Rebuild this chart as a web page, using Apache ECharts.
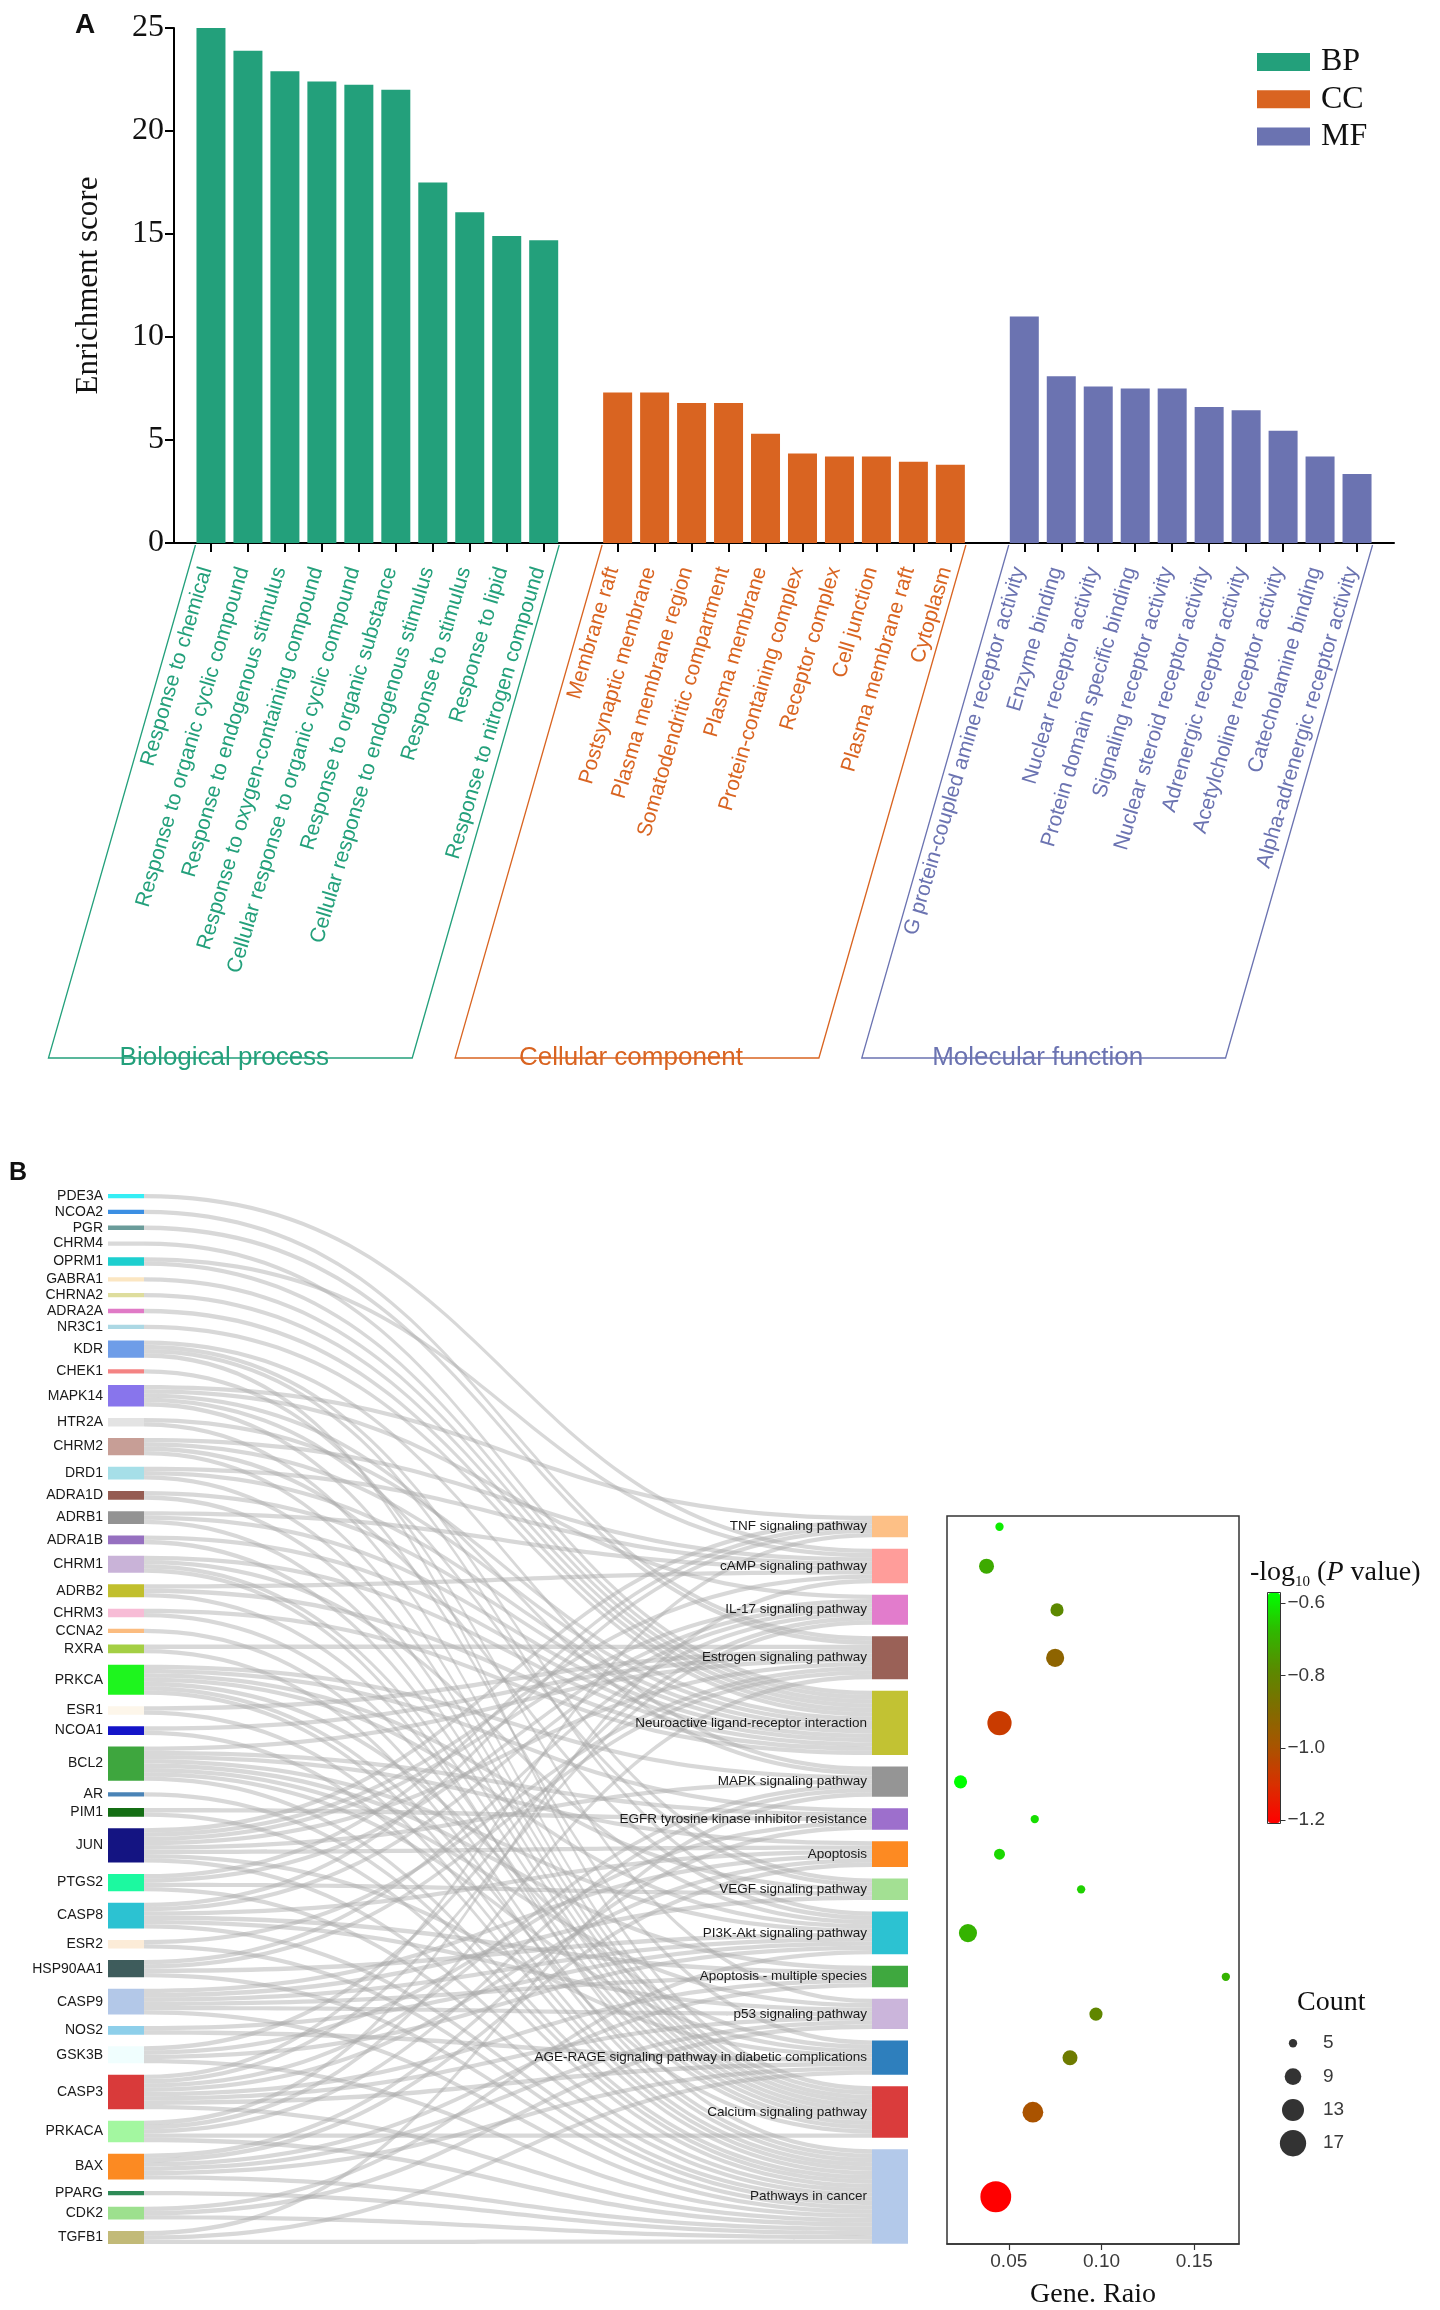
<!DOCTYPE html>
<html><head><meta charset="utf-8">
<script src="https://cdn.jsdelivr.net/npm/echarts@6.0.0/dist/echarts.min.js"></script>
<style>html,body{margin:0;padding:0;background:#fff}#c{width:1440px;height:2310px}</style>
</head><body><div id="c"></div>
<script>
// ---------------- Panel A : GO enrichment ----------------
const bpTerms = ['Response to chemical','Response to organic cyclic compound','Response to endogenous stimulus','Response to oxygen-containing compound','Cellular response to organic cyclic compound','Response to organic substance','Cellular response to endogenous stimulus','Response to stimulus','Response to lipid','Response to nitrogen compound'];
const bpScores = [25.0, 23.9, 22.9, 22.4, 22.25, 22.0, 17.5, 16.05, 14.9, 14.7];
const ccTerms = ['Membrane raft','Postsynaptic membrane','Plasma membrane region','Somatodendritic compartment','Plasma membrane','Protein-containing complex','Receptor complex','Cell junction','Plasma membrane raft','Cytoplasm'];
const ccScores = [7.3, 7.3, 6.8, 6.8, 5.3, 4.35, 4.2, 4.2, 3.95, 3.8];
const mfTerms = ['G protein-coupled amine receptor activity','Enzyme binding','Nuclear receptor activity','Protein domain specific binding','Signaling receptor activity','Nuclear steroid receptor activity','Adrenergic receptor activity','Acetylcholine receptor activity','Catecholamine binding','Alpha-adrenergic receptor activity'];
const mfScores = [11.0, 8.1, 7.6, 7.5, 7.5, 6.6, 6.45, 5.45, 4.2, 3.35];
const groupKeys = ['BP','CC','MF'];
const groupNames = ['Biological process','Cellular component','Molecular function'];
const groupColors = ['#23a07b','#d96421','#6b73b1'];

// ---------------- Panel B : gene -> KEGG pathway ----------------
const genes = ['PDE3A','NCOA2','PGR','CHRM4','OPRM1','GABRA1','CHRNA2','ADRA2A','NR3C1','KDR','CHEK1','MAPK14','HTR2A','CHRM2','DRD1','ADRA1D','ADRB1','ADRA1B','CHRM1','ADRB2','CHRM3','CCNA2','RXRA','PRKCA','ESR1','NCOA1','BCL2','AR','PIM1','JUN','PTGS2','CASP8','ESR2','HSP90AA1','CASP9','NOS2','GSK3B','CASP3','PRKACA','BAX','PPARG','CDK2','TGFB1'];
const geneColors = ['#35eef5','#3b8fe3','#6b9c9a','#d9d9d9','#1dcfcf','#fbe6c2','#dedd9d','#e07ac6','#acd8e4','#6e9de8','#f48383','#8875ec','#e3e3e3','#c79e96','#a6dfe8','#955c52','#939393','#9670c0','#c9b3d8','#c1bf2d','#f7bcd6','#fbbc80','#a4cf44','#1ef51e','#fdf6ea','#1414c8','#3ea63e','#4a83b6','#146e14','#141482','#1cf9a0','#2cc2d2','#fcecd8','#3e5c5c','#b3c8e8','#8ecfea','#f0fefe','#d93a3a','#a3f7a0','#fc8a22','#2e8b57','#9de08e','#c2ba78'];
const pathways = ['TNF signaling pathway','cAMP signaling pathway','IL-17 signaling pathway','Estrogen signaling pathway','Neuroactive ligand-receptor interaction','MAPK signaling pathway','EGFR tyrosine kinase inhibitor resistance','Apoptosis','VEGF signaling pathway','PI3K-Akt signaling pathway','Apoptosis - multiple species','p53 signaling pathway','AGE-RAGE signaling pathway in diabetic complications','Calcium signaling pathway','Pathways in cancer'];
const pathwayColors = ['#fdc086','#ff9d9a','#e27ccc','#9a6157','#c2c233','#959595','#9d6fcc','#fd8a22','#a3e093','#2cc2d2','#3fa83f','#cbb5db','#2e7fbd','#da3c3c','#b3c9ea'];
// pathway indices linked from each gene (same order as genes)
const geneTargets = [[1],[3],[3],[4],[4,1],[4],[4],[4],[4],[8,9,13,5],[11],[0,2,5,8,12],[4,13],[4,1,13,9],[4,1,13],[4,13],[4,1,13],[4,13],[4,13,9,14],[4,1,13],[4,13],[14],[14,3],[13,5,8,6,12,14,9],[3,14],[3,14],[7,10,11,9,14,6,12,3],[14],[14,6],[0,1,2,3,5,7,12,14],[0,2,8,14],[0,2,7,10,11,14],[3,14],[3,9,2,14],[7,10,11,9,8,14],[9,12],[9,14,2,6],[0,2,5,7,10,11,12,14],[1,3,13,5,14],[7,10,11,14,12,6],[14],[11,14,9],[5,12,14]];
// bubble chart
const pathwayCount = [5, 8, 7, 10, 15, 7, 5, 6, 5, 10, 5, 7, 8, 12, 22];
const geneRatio = [0.045, 0.038, 0.076, 0.075, 0.045, 0.024, 0.064, 0.045, 0.089, 0.028, 0.167, 0.097, 0.083, 0.063, 0.043];
const negLogP = [-0.60, -0.71, -0.79, -0.93, -1.07, -0.571, -0.62, -0.63, -0.64, -0.69, -0.69, -0.80, -0.84, -1.00, -1.209];
const ratioTicks = [0.05, 0.10, 0.15];
const pTicks = [-0.6, -0.8, -1.0, -1.2];
const countLegend = [5, 9, 13, 17];

// ---------------- build ----------------
const SANS = "'Liberation Sans', Arial, Helvetica, sans-serif";
const SERIF = "'Liberation Serif', 'Times New Roman', serif";

const groups = [[bpTerms,bpScores],[ccTerms,ccScores],[mfTerms,mfScores]];
const posInfo = {}; const groupRanges = []; let cursor = 0;
const barSeriesData = groups.map(function (g, gi) {
  const start = cursor;
  const d = g[1].map(function (v, i) { posInfo[cursor + i] = {name: g[0][i], grp: gi}; return [cursor + i, v]; });
  groupRanges.push([start, 0, cursor + g[1].length - 1, gi]);
  cursor += g[1].length + 1;
  return d;
});
const tickPositions = Object.keys(posInfo).map(Number);

// sankey layout constants
const SK = {left: 108, top: 1194, width: 800, height: 1050, nodeWidth: 36, nodeGap: 11.5};
const totalLinks = geneTargets.reduce(function (s, t) { return s + t.length; }, 0);
const ky = (SK.height - (genes.length - 1) * SK.nodeGap) / totalLinks;
const rightSpan = totalLinks * ky + (pathways.length - 1) * SK.nodeGap;
const spacerValue = (SK.height - rightSpan - SK.nodeGap) / ky - 0.05;
const gapUnits = SK.nodeGap / ky;
const yCenters = []; let acc = 0;
pathwayCount.forEach(function (c) { yCenters.push(acc + c / 2); acc += c + gapUnits; });
const yMax = acc - gapUnits;
const bubbleTop = SK.top + SK.height - rightSpan;

const nodes = genes.map(function (g, i) {
  return {name: g, depth: 0, itemStyle: {color: geneColors[i]}};
});
nodes.push({name: ' ', depth: 1, value: spacerValue, itemStyle: {color: 'rgba(0,0,0,0)'}, label: {show: false}});
pathways.forEach(function (p, i) {
  nodes.push({name: p, depth: 1, itemStyle: {color: pathwayColors[i]}, label: {fontSize: 13.5}});
});
const links = [];
geneTargets.forEach(function (t, gi) {
  t.forEach(function (pi) { links.push({source: genes[gi], target: pathways[pi], value: 1}); });
});

function bubbleSize(c) { return Math.sqrt(Math.max(51.9 * c - 190.5, 20)); }

const rich = {};
groupColors.forEach(function (c, i) { rich['g' + i] = {color: c, fontSize: 21, fontFamily: SANS}; });

const chart = echarts.init(document.getElementById('c'), null, {renderer: 'canvas', width: 1440, height: 2310});
chart.setOption({
  backgroundColor: '#ffffff',
  animation: false,
  tooltip: {show: false},
  title: [
    {text: 'A', left: 75, top: 11, padding: 0, textStyle: {fontSize: 28, fontWeight: 'bold', fontFamily: SANS, color: '#111'}},
    {text: 'B', left: 9, top: 1161, padding: 0, textStyle: {fontSize: 25, fontWeight: 'bold', fontFamily: SANS, color: '#111'}},
    {text: '{a|-log}{s|10}{a| (}{i|P}{a| value)}', left: 1250, top: 1556, padding: 0,
      textStyle: {fontWeight: 'normal', rich: {
        a: {fontFamily: SERIF, fontSize: 28, fontWeight: 'normal', color: '#111', lineHeight: 34},
        i: {fontFamily: SERIF, fontSize: 28, fontWeight: 'normal', fontStyle: 'italic', color: '#111', lineHeight: 34},
        s: {fontFamily: SERIF, fontSize: 15, fontWeight: 'normal', color: '#111', verticalAlign: 'bottom', lineHeight: 15}
      }}},
    {text: 'Count', left: 1297, top: 1989, padding: 0, textStyle: {fontFamily: SERIF, fontSize: 28, fontWeight: 'normal', color: '#111'}}
  ],
  legend: {
    data: groupKeys, orient: 'vertical', left: 1257, top: 46, padding: 0,
    itemWidth: 53, itemHeight: 18, itemGap: 5.3, icon: 'rect', selectedMode: false,
    textStyle: {fontFamily: SERIF, fontSize: 32, color: '#111', lineHeight: 32, padding: [0, 0, 0, 6]}
  },
  grid: [
    {left: 174, top: 28, width: 1220, height: 515, outerBoundsMode: 'none'},
    {left: 947, top: bubbleTop, width: 292, height: rightSpan, show: true, borderColor: '#333', borderWidth: 1.5, backgroundColor: 'rgba(0,0,0,0)', outerBoundsMode: 'none'},
    {left: 1267.5, top: 1592.5, width: 13, height: 231, show: true, borderColor: '#333', borderWidth: 1, backgroundColor: 'rgba(0,0,0,0)', outerBoundsMode: 'none'},
    {left: 1280, top: 2026.6, width: 26, height: 133.3, outerBoundsMode: 'none'}
  ],
  xAxis: [
    {type: 'value', gridIndex: 0, min: -1, max: 32,
      axisLine: {show: true, onZero: false, lineStyle: {color: '#000', width: 2}},
      axisTick: {show: true, customValues: tickPositions, length: 9, lineStyle: {color: '#000', width: 2}},
      axisLabel: {show: true, customValues: tickPositions, rotate: 73.5, margin: 26, padding: [0, 0, 10, 0],
        formatter: function (v) { const p = posInfo[Math.round(v)]; return p ? '{g' + p.grp + '|' + p.name + '}' : ''; },
        rich: rich},
      splitLine: {show: false}},
    {type: 'value', gridIndex: 1, min: 0.0167, max: 0.1741,
      axisLine: {show: true, onZero: false, lineStyle: {color: '#333', width: 1.5}},
      axisTick: {show: true, customValues: ratioTicks, length: 6, lineStyle: {color: '#333', width: 1.2}},
      axisLabel: {customValues: ratioTicks, formatter: function (v) { return v.toFixed(2); }, fontSize: 19, fontFamily: SANS, color: '#3a3a3a', margin: 8},
      splitLine: {show: false},
      name: 'Gene. Raio', nameLocation: 'middle', nameGap: 37,
      nameTextStyle: {fontFamily: SERIF, fontSize: 28, color: '#111'}},
    {type: 'value', gridIndex: 2, min: 0, max: 1, show: false},
    {type: 'value', gridIndex: 3, min: -1, max: 1, show: false}
  ],
  yAxis: [
    {type: 'value', gridIndex: 0, min: 0, max: 25, interval: 5,
      axisLine: {show: true, onZero: false, lineStyle: {color: '#000', width: 2}},
      axisTick: {show: true, length: 9, lineStyle: {color: '#000', width: 2}},
      axisLabel: {fontFamily: SERIF, fontSize: 32, color: '#111', margin: 10},
      splitLine: {show: false},
      name: 'Enrichment score', nameLocation: 'middle', nameGap: 70, nameRotate: 90,
      nameTextStyle: {fontFamily: SERIF, fontSize: 31, color: '#111'}},
    {type: 'value', gridIndex: 1, inverse: true, min: 0, max: yMax, show: false},
    {type: 'value', gridIndex: 2, position: 'right', min: -1.209, max: -0.571,
      axisLine: {show: false, onZero: false},
      axisTick: {show: true, customValues: pTicks, length: 5, lineStyle: {color: '#333', width: 1}},
      axisLabel: {customValues: pTicks, formatter: function (v) { return '\u2212' + Math.abs(v).toFixed(1); }, fontSize: 19, fontFamily: SANS, color: '#3a3a3a', margin: 7},
      splitLine: {show: false}},
    {type: 'category', gridIndex: 3, position: 'right', inverse: true, data: countLegend.map(String),
      axisLine: {show: false}, axisTick: {show: false},
      axisLabel: {fontSize: 19, fontFamily: SANS, color: '#3a3a3a', margin: 17}}
  ],
  visualMap: {
    type: 'continuous', seriesIndex: 5, dimension: 3, min: -1.209, max: -0.571,
    left: 1268, top: 1593, itemWidth: 12, itemHeight: 230, padding: 0,
    calculable: false, hoverLink: false, showLabel: false, text: null,
    inRange: {color: ['#ff0000', '#d83000', '#a85400', '#7f6d00', '#5a8a00', '#30b800', '#00ff00']}
  },
  series: [
    {type: 'bar', name: 'BP', xAxisIndex: 0, yAxisIndex: 0, data: barSeriesData[0], barWidth: 29, barGap: '-100%', itemStyle: {color: groupColors[0]}, silent: true},
    {type: 'bar', name: 'CC', xAxisIndex: 0, yAxisIndex: 0, data: barSeriesData[1], barWidth: 29, barGap: '-100%', itemStyle: {color: groupColors[1]}, silent: true},
    {type: 'bar', name: 'MF', xAxisIndex: 0, yAxisIndex: 0, data: barSeriesData[2], barWidth: 29, barGap: '-100%', itemStyle: {color: groupColors[2]}, silent: true},
    {type: 'custom', xAxisIndex: 0, yAxisIndex: 0, clip: false, silent: true, data: groupRanges,
      encode: {x: [0, 2], y: 1},
      renderItem: function (params, api) {
        const gi = api.value(3);
        const s = api.coord([api.value(0) - 0.42, 0]);
        const e = api.coord([api.value(2) + 0.42, 0]);
        const dx = -147, dy = 515, y0 = s[1] + 2;
        const col = groupColors[gi];
        return {type: 'group', children: [
          {type: 'polyline', shape: {points: [[s[0], y0], [s[0] + dx, s[1] + dy], [e[0] + dx, e[1] + dy], [e[0], y0]]},
            style: {stroke: col, fill: null, lineWidth: 1.3}},
          {type: 'text', x: (s[0] + e[0]) / 2 + dx - 6, y: s[1] + dy,
            style: {text: groupNames[gi], fill: col, font: '26px ' + SANS, align: 'center', verticalAlign: 'middle'}}
        ]};
      }},
    {type: 'sankey', left: SK.left, top: SK.top, width: SK.width, height: SK.height,
      nodeWidth: SK.nodeWidth, nodeGap: SK.nodeGap, layoutIterations: 0, draggable: false, silent: true,
      emphasis: {disabled: true},
      data: nodes, links: links,
      itemStyle: {borderWidth: 0},
      lineStyle: {color: '#a8a8a8', opacity: 0.45, curveness: 0.5},
      label: {position: 'left', distance: 5, fontSize: 14, fontFamily: SANS, color: '#1a1a1a'}},
    {type: 'scatter', xAxisIndex: 1, yAxisIndex: 1, silent: true,
      data: pathways.map(function (p, i) { return [geneRatio[i], yCenters[i], pathwayCount[i], negLogP[i]]; }),
      symbolSize: function (v) { return bubbleSize(v[2]); },
      itemStyle: {opacity: 1}},
    {type: 'scatter', xAxisIndex: 3, yAxisIndex: 3, silent: true,
      data: countLegend.map(function (c) { return [0, String(c), c]; }),
      symbolSize: function (v) { return bubbleSize(v[2]); },
      itemStyle: {color: '#000'}},
    {type: 'scatter', xAxisIndex: 2, yAxisIndex: 2, data: [], silent: true}
  ]
});
</script></body></html>
